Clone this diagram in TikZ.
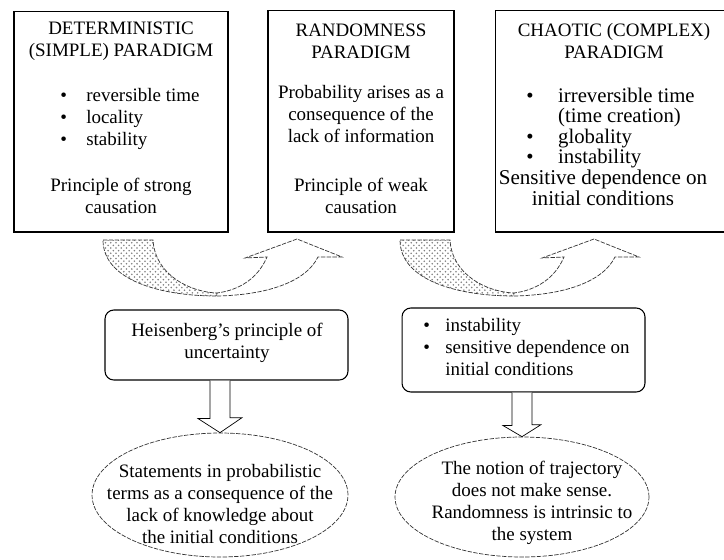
\documentclass[tikz,border=0pt]{standalone}
\usepackage{fontspec}
\setmainfont{Liberation Serif}
\usetikzlibrary{shapes.geometric, patterns, calc}

\begin{document}
\begin{tikzpicture}[x=0.02cm, y=-0.02cm,
  every node/.style={font=\fontsize{10.8}{12.4}\selectfont, inner sep=0pt},
  panel/.style={draw, line width=0.6pt},
  roundpanel/.style={panel, rounded corners=5pt},
  oval/.style={draw=black!80, ellipse, thin, dash pattern=on 2.5pt off 0.8pt},
  ribbon/.style={draw=black!80, thin, dash pattern=on 2.5pt off 0.8pt},
  blockarrow/.style={draw, thin, fill=white}]
  \useasboundingbox (0,0) rectangle (724,559);
  \clip (0,0) rectangle (724,559);

  % Paradigm boxes
  \node[panel, minimum width=4.28cm, minimum height=4.42cm] (det) at (121,121.5) {};
  \node[panel, minimum width=3.72cm, minimum height=4.44cm] (rnd) at (361,121) {};
  \node[panel, minimum width=4.76cm, minimum height=4.44cm] (cha) at (614,121) {};

  % Deterministic
  \node[align=center] (dettitle) at (121,41) {DETERMINISTIC\\(SIMPLE) PARADIGM};
  \node[anchor=west] (detlist) at (60,119) {\begin{tabular}{@{}l@{\hspace{11pt}}l@{}}
    \textbullet & reversible time\\
    \textbullet & locality\\
    \textbullet & stability
  \end{tabular}};
  \node[align=center] (detcause) at (121,196) {Principle of strong\\causation};

  % Randomness
  \node[align=center] (rndtitle) at (361,41) {RANDOMNESS\\PARADIGM};
  \node[align=center] (rndtext) at (361,114) {Probability arises as a\\consequence of the\\lack of information};
  \node[align=center] (rndcause) at (361,196) {Principle of weak\\causation};

  % Chaotic
  \node[align=center] (chatitle) at (614,41) {CHAOTIC (COMPLEX)\\PARADIGM};
  \node[anchor=west, font=\fontsize{11.8}{11.6}\selectfont] (chalist) at (526,129) {\begin{tabular}{@{}l@{\hspace{14pt}}l@{}}
    \textbullet & irreversible time\\
                & (time creation)\\
    \textbullet & globality\\
    \textbullet & instability
  \end{tabular}};
  \node[align=center, font=\fontsize{12}{11.8}\selectfont] (chasens) at (603,188) {Sensitive dependence on\\initial conditions};

  % Curved arrows between the paradigms
  \foreach \sx in {0,297}{
    \begin{scope}[shift={(\sx,0)}]
      \draw[ribbon, pattern=crosshatch dots, pattern color=gray]
        (103,240) -- (153,240) .. controls (155,275) and (190,292) .. (217,293)
        -- (217,296) .. controls (160,296) and (103,280) .. (103,240) -- cycle;
      \draw[ribbon, fill=white]
        (217,296) .. controls (265,295) and (305,283) .. (318,257)
        -- (342,257) -- (297,239) -- (245,258) -- (267,257)
        .. controls (258,278) and (240,290) .. (217,293) -- cycle;
    \end{scope}
  }

  % Middle boxes
  \node[roundpanel, minimum width=4.86cm, minimum height=1.4cm] (heis) at (226.5,345) {};
  \node[align=center] (heistext) at (227,343) {Heisenberg’s principle of\\uncertainty};
  \node[roundpanel, minimum width=4.86cm, minimum height=1.68cm] (inst) at (523.5,350) {};
  \node[anchor=west] (instlist) at (423,349) {\begin{tabular}{@{}l@{\hspace{8.7pt}}l@{}}
    \textbullet & instability\\
    \textbullet & sensitive dependence on\\
                & initial conditions
  \end{tabular}};

  % Consequences
  \node[oval, minimum width=5.12cm, minimum height=2.48cm] (ell1) at (220,495) {};
  \node[align=center] (ell1text) at (220,504) {Statements in probabilistic\\terms as a consequence of the\\lack of knowledge about\\the initial conditions};
  \node[oval, minimum width=5.08cm, minimum height=2.4cm] (ell2) at (522,497) {};
  \node[align=center] (ell2text) at (532,503) {The notion of trajectory\\does not make sense.\\Randomness is intrinsic to\\the system};

  % Hollow arrows
  \draw[blockarrow] ($(heis.south -| ell1.north)+(-10,0)$) -- ++(0,38) -- ++(-12,0)
    -- (ell1.north) -- ++(22,-15) -- ++(-12,0) -- ($(heis.south -| ell1.north)+(10,0)$);
  \draw[blockarrow] ($(inst.south -| ell2.north)+(-10,0)$) -- ++(0,33) -- ++(-9,0)
    -- (ell2.north) -- ++(19,-12) -- ++(-9,0) -- ($(inst.south -| ell2.north)+(10,0)$);
\end{tikzpicture}
\end{document}
